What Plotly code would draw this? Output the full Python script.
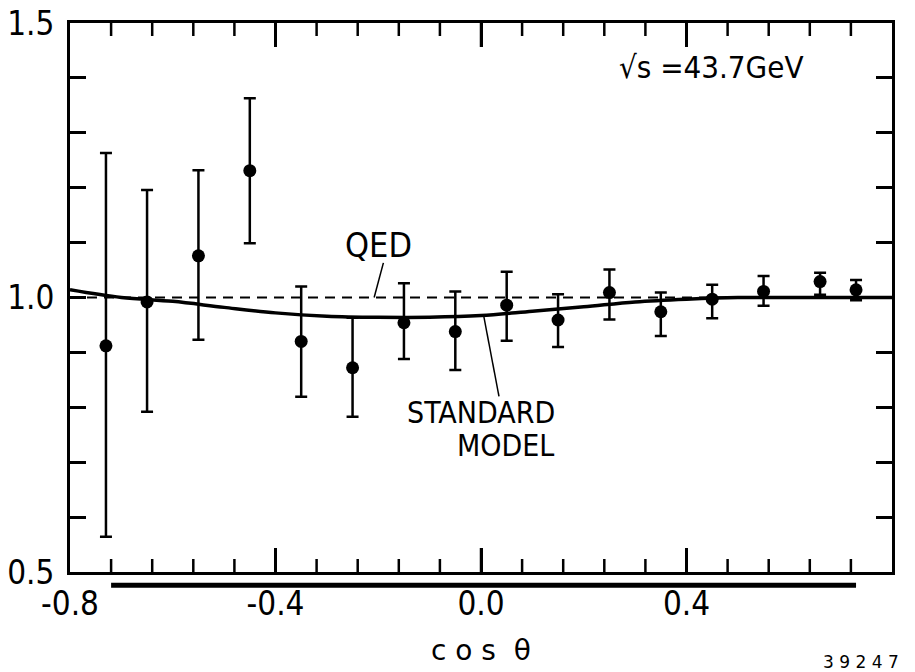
import plotly.graph_objects as go

# ---- data ----
cos_theta = [-0.73, -0.65, -0.55, -0.45, -0.35, -0.25, -0.15, -0.05,
             0.05, 0.15, 0.25, 0.35, 0.45, 0.55, 0.66, 0.73]
ratio = [0.912, 0.992, 1.076, 1.231, 0.920, 0.872, 0.954, 0.938,
         0.986, 0.959, 1.009, 0.974, 0.997, 1.011, 1.029, 1.014]
err_up = [1.263, 1.196, 1.232, 1.363, 1.020, 0.963, 1.026, 1.011,
          1.047, 1.006, 1.051, 1.009, 1.023, 1.039, 1.045, 1.032]
err_lo = [0.564, 0.792, 0.923, 1.099, 0.819, 0.783, 0.888, 0.868,
          0.921, 0.910, 0.960, 0.930, 0.962, 0.985, 1.005, 0.995]

qed_x = [-0.8, 0.8]
qed_y = [1.0, 1.0]

sm_x = [-0.8, -0.7, -0.6, -0.5, -0.4, -0.3, -0.2, -0.1, 0.0, 0.1, 0.2, 0.3, 0.4, 0.5, 0.6, 0.7, 0.8]
sm_y = [1.014, 1.000, 0.993, 0.982, 0.972, 0.966, 0.964, 0.964, 0.967, 0.975, 0.983, 0.992, 0.997, 1.000, 1.000, 1.000, 1.000]

acceptance = [-0.72, 0.73]

x_tick_vals = [-0.8, -0.4, 0.0, 0.4, 0.8]
x_tick_text = ["-0.8", "-0.4", "0.0", "0.4", "0.8"]
x_minor_vals = [-0.72, -0.64, -0.56, -0.48, -0.32, -0.24, -0.16, -0.08,
                0.08, 0.16, 0.24, 0.32, 0.48, 0.56, 0.64, 0.72]
y_tick_vals = [0.5, 1.0, 1.5]
y_tick_text = ["0.5", "1.0", "1.5"]
x_range = [-0.8, 0.8]
y_range = [0.5, 1.5]

FONT = "DejaVu Sans Condensed, Liberation Sans Narrow, DejaVu Sans, sans-serif"

W, H = 915, 672
M = dict(l=70, r=23, t=23, b=100)
plot_h = H - M["t"] - M["b"]
units_per_px = (y_range[1] - y_range[0]) / plot_h

plus = [u - v for u, v in zip(err_up, ratio)]
minus = [v - l for v, l in zip(ratio, err_lo)]

fig = go.Figure()
fig.add_trace(go.Scatter(x=qed_x, y=qed_y, mode="lines",
                         line=dict(color="black", width=2, dash="10px,7px"),
                         showlegend=False, hoverinfo="skip"))
fig.add_trace(go.Scatter(x=sm_x, y=sm_y, mode="lines", line_shape="spline",
                         line=dict(color="black", width=3.5),
                         showlegend=False, hoverinfo="skip"))
fig.add_trace(go.Scatter(x=cos_theta, y=ratio, mode="markers",
                         marker=dict(color="black", size=13),
                         error_y=dict(type="data", symmetric=False, array=plus, arrayminus=minus,
                                      color="black", thickness=2.5, width=6),
                         showlegend=False))

# x-axis tick marks (bottom and top, pointing inward), built from the tick value lists
inner_major = [v for v in x_tick_vals if x_range[0] < v < x_range[1]]
for vals, tick_px in ((inner_major, 24), (x_minor_vals, 13)):
    half = tick_px * units_per_px / 2
    ys = [y_range[0] + half] * len(vals) + [y_range[1] - half] * len(vals)
    fig.add_trace(go.Scatter(x=vals * 2, y=ys, mode="markers",
                             marker=dict(size=1, color="rgba(0,0,0,0)"),
                             error_y=dict(type="constant", value=half, color="black",
                                          thickness=2.5, width=0),
                             showlegend=False, hoverinfo="skip"))

fig.add_shape(type="line", xref="x", yref="paper", x0=acceptance[0], x1=acceptance[1],
              y0=-0.024, y1=-0.024, line=dict(color="black", width=5))

# leader lines
fig.add_shape(type="line", xref="x", yref="y", x0=-0.208, y0=1.0, x1=-0.19, y1=1.063,
              line=dict(color="black", width=1.5))
fig.add_shape(type="line", xref="x", yref="y", x0=0.005, y0=0.968, x1=0.035, y1=0.82,
              line=dict(color="black", width=1.5))

def tf(size):
    return dict(family=FONT, size=size, color="black")

fig.add_annotation(x=-0.2, y=1.095, xref="x", yref="y", text="QED", showarrow=False, font=tf(34))
fig.add_annotation(x=0.0, y=0.79, xref="x", yref="y", text="STANDARD", showarrow=False, font=tf(30))
fig.add_annotation(x=0.047, y=0.731, xref="x", yref="y", text="MODEL", showarrow=False, font=tf(30))
fig.add_annotation(x=0.265, y=1.42, xref="x", yref="y", text="\u221as =43.7GeV", showarrow=False,
                   xanchor="left", font=tf(31))
fig.add_annotation(x=0.0, y=-0.143, xref="x", yref="paper", yanchor="middle", text="c o s  \u03b8",
                   showarrow=False, font=dict(family="DejaVu Sans", size=28, color="black"))
fig.add_annotation(x=0.74, y=-0.164, xref="x", yref="paper", yanchor="middle", text="3 9 2 4 7",
                   showarrow=False, font=dict(family="DejaVu Sans", size=17, color="black"))

fig.update_layout(
    template="none",
    xaxis=dict(range=x_range, tickmode="array", tickvals=x_tick_vals, ticktext=x_tick_text,
               ticks="inside", ticklen=24, tickwidth=2.5, tickcolor="black",
               showline=True, linecolor="black", linewidth=3, mirror="ticks",
               showgrid=False, zeroline=False, automargin=False, tickfont=tf(33)),
    yaxis=dict(range=y_range, tickmode="array", tickvals=y_tick_vals, ticktext=y_tick_text,
               ticks="inside", ticklen=16, tickwidth=2.5, tickcolor="black",
               minor=dict(tickmode="linear", tick0=0.5, dtick=0.1, ticks="inside", ticklen=16,
                          tickwidth=2.5, tickcolor="black"),
               showline=True, linecolor="black", linewidth=3, mirror="ticks",
               showgrid=False, zeroline=False, ticklabelstandoff=6, automargin=False,
               tickfont=tf(33)),
    width=W, height=H, margin=M,
    paper_bgcolor="white", plot_bgcolor="white")

fig.write_html("out.html")
